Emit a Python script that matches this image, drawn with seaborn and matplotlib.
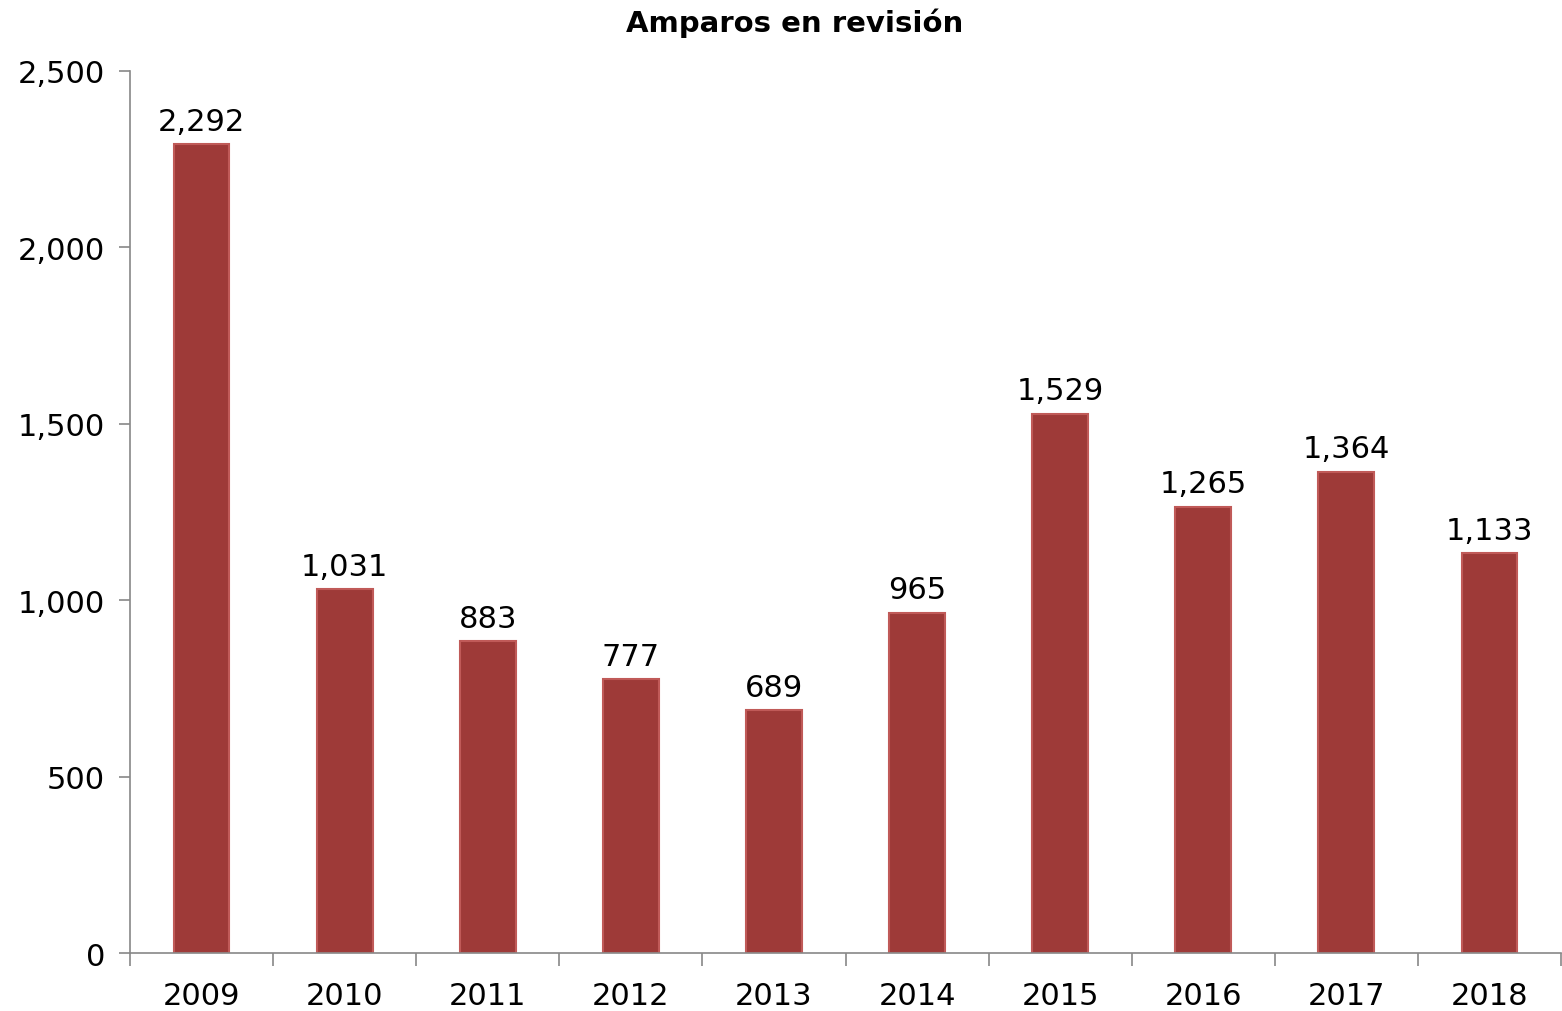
import pandas as pd
import seaborn as sns
import matplotlib.pyplot as plt

years = ['2009', '2010', '2011', '2012', '2013', '2014', '2015', '2016', '2017', '2018']
amparos = [2292, 1031, 883, 777, 689, 965, 1529, 1265, 1364, 1133]

df = pd.DataFrame({'anio': years, 'amparos': amparos})

sns.set_style('white')
plt.rcParams['font.family'] = ['DejaVu Sans']

fig = plt.figure(figsize=(15.62, 10.12), dpi=100)
ax = fig.add_axes([0.0832, 0.0573, 0.9162, 0.8716])

sns.barplot(data=df, x='anio', y='amparos', color='#9E3A38', saturation=1,
            width=0.39, edgecolor='#C05A58', linewidth=1.5, ax=ax)

# etiquetas de datos
for i, v in enumerate(amparos):
    ax.annotate(f'{v:,}', (i, v), xytext=(0, 6), textcoords='offset points',
                ha='center', va='bottom', fontsize=22, color='black')

ax.set_ylim(0, 2500)
ax.set_xlim(-0.5, 9.5)
ax.set_yticks(range(0, 2501, 500))
ax.set_yticklabels([f'{t:,}' for t in range(0, 2501, 500)])
ax.set_xticks([x - 0.5 for x in range(11)], minor=True)
ax.tick_params(axis='x', which='major', bottom=False, length=0, labelsize=22,
               labelcolor='black', pad=20)
ax.tick_params(axis='x', which='minor', bottom=True, length=9, width=1.2,
               color='#888888', direction='out')
ax.tick_params(axis='y', left=True, length=8, width=1.2, color='#888888',
               labelsize=22, labelcolor='black', pad=10, direction='out')
ax.set_xlabel('')
ax.set_ylabel('')

for side in ['top', 'right']:
    ax.spines[side].set_visible(False)
for side in ['left', 'bottom']:
    ax.spines[side].set_color('#888888')
    ax.spines[side].set_linewidth(1.2)

fig.text(0.509, 0.977, 'Amparos en revisión', ha='center', va='center',
         fontsize=21, fontweight='bold', color='black')

fig.savefig('out.png', dpi=100)
